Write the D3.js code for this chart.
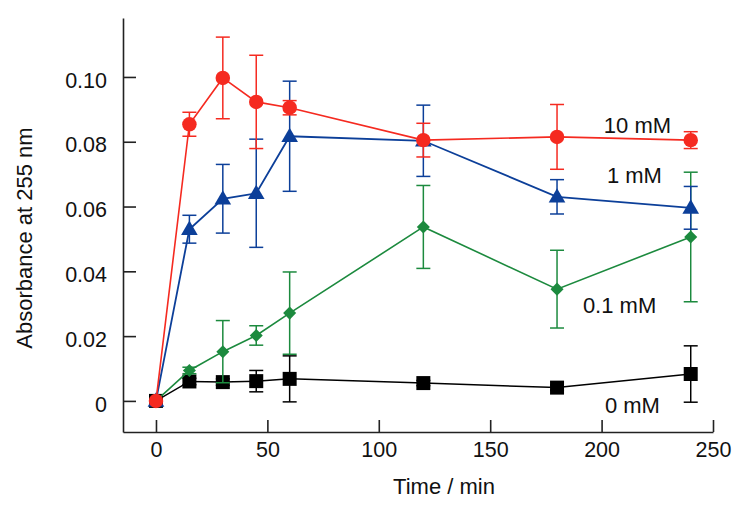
<!DOCTYPE html>
<html>
<head>
<meta charset="utf-8">
<script src="https://cdn.jsdelivr.net/npm/d3@7"></script>
<style>
  html, body { margin: 0; padding: 0; background: #fff; }
  svg { display: block; font-family: "Liberation Sans", Arial, Helvetica, sans-serif; }
</style>
</head>
<body>
<svg id="chart" width="743" height="512"></svg>
<script>
// ---- Data ----
const times = [0, 15, 30, 45, 60, 120, 180, 240];

const seriesNames = ["0 mM", "0.1 mM", "1 mM", "10 mM"];

const mean0mM   = [0, 0.0060, 0.0058, 0.0061, 0.0068, 0.0055, 0.0041, 0.0083];
const err0mM    = [0, 0.0010, 0.0010, 0.0033, 0.0071, 0.0008, 0.0008, 0.0087];

const mean01mM  = [0, 0.0094, 0.0152, 0.0202, 0.0271, 0.0537, 0.0345, 0.0506];
const err01mM   = [0, 0.0010, 0.0096, 0.0030, 0.0127, 0.0128, 0.0120, 0.0200];

const mean1mM   = [0, 0.0530, 0.0624, 0.0641, 0.0817, 0.0803, 0.0630, 0.0596];
const err1mM    = [0, 0.0043, 0.0106, 0.0167, 0.0170, 0.0110, 0.0053, 0.0066];

const mean10mM  = [0, 0.0854, 0.0997, 0.0923, 0.0905, 0.0805, 0.0815, 0.0805];
const err10mM   = [0, 0.0037, 0.0126, 0.0144, 0.0022, 0.0052, 0.0100, 0.0026];

const xTicks = [0, 50, 100, 150, 200, 250];
const yTicks = [0, 0.02, 0.04, 0.06, 0.08, 0.10];
const xTitle = "Time / min";
const yTitle = "Absorbance at 255 nm";

// ---- Layout ----
const svg = d3.select("#chart");
const x = d3.scaleLinear().domain([-14.8, 250]).range([123, 713]);
const y = d3.scaleLinear().domain([-0.0096, 0.1182]).range([432, 18]);

const axisColor = "#222";
const tickFont = "21.5px";

// X axis
const gx = svg.append("g").attr("transform", "translate(0,432)")
  .call(d3.axisBottom(x).tickValues(xTicks).tickSizeInner(-12).tickSizeOuter(0).tickPadding(10).tickFormat(d3.format("d")));
// Y axis
const gy = svg.append("g").attr("transform", "translate(123,0)")
  .call(d3.axisLeft(y).tickValues(yTicks).tickSizeInner(-13).tickSizeOuter(0).tickPadding(16)
    .tickFormat(d => d === 0 ? "0" : d3.format(".2f")(d)));

[gx, gy].forEach(g => {
  g.select(".domain").attr("stroke", axisColor).attr("stroke-width", 1.6);
  g.selectAll(".tick line").attr("stroke", axisColor).attr("stroke-width", 1.6);
  g.selectAll(".tick text").attr("fill", "#111").style("font-size", tickFont)
    .style("font-family", "'Liberation Sans', Arial, sans-serif");
});
gy.selectAll(".tick text").attr("dy", "0.47em");

// Titles
svg.append("text").attr("x", 444).attr("y", 494).attr("text-anchor", "middle")
  .style("font-size", "22px").attr("fill", "#111").text(xTitle);
svg.append("text").attr("transform", "translate(32,238) rotate(-90)").attr("text-anchor", "middle")
  .style("font-size", "22px").attr("fill", "#111").text(yTitle);

// ---- Series ----
const series = [
  { name: seriesNames[0], mean: mean0mM,  err: err0mM,  color: "#000000", shape: d3.symbolSquare,  size: 196, rot: 0,  lw: 1.5, label: [201.5, -0.0037] },
  { name: seriesNames[1], mean: mean01mM, err: err01mM, color: "#1c8a3e", shape: d3.symbolSquare,  size: 85,  rot: 45, lw: 1.6, label: [191.6, 0.0272] },
  { name: seriesNames[2], mean: mean1mM,  err: err1mM,  color: "#0c3f99", shape: d3.symbolTriangle, size: 120, rot: 0, lw: 1.8, label: [202.4, 0.0673] },
  { name: seriesNames[3], mean: mean10mM, err: err10mM, color: "#f52a20", shape: d3.symbolCircle,  size: 165, rot: 0,  lw: 1.6, label: [201, 0.0827] }
];

const capW = 7;
series.forEach(s => {
  const pts = times.map((t, i) => ({ t, v: s.mean[i], e: s.err[i] }));
  const g = svg.append("g");
  // error bars
  pts.filter(p => p.e > 0).forEach(p => {
    const cx = x(p.t), y1 = y(p.v + p.e), y2 = y(p.v - p.e);
    g.append("line").attr("x1", cx).attr("x2", cx).attr("y1", y1).attr("y2", y2)
      .attr("stroke", s.color).attr("stroke-width", 1.5);
    [y1, y2].forEach(yy => g.append("line").attr("x1", cx - capW).attr("x2", cx + capW)
      .attr("y1", yy).attr("y2", yy).attr("stroke", s.color).attr("stroke-width", 1.5));
  });
  // line
  g.append("path").datum(pts)
    .attr("d", d3.line().x(p => x(p.t)).y(p => y(p.v)))
    .attr("fill", "none").attr("stroke", s.color).attr("stroke-width", s.lw);
  // markers
  g.selectAll("path.mk").data(pts).enter().append("path").attr("class", "mk")
    .attr("d", d3.symbol().type(s.shape).size(s.size))
    .attr("transform", p => `translate(${x(p.t)},${y(p.v) + (s.shape === d3.symbolTriangle ? 1 : 0)}) rotate(${s.rot})`)
    .attr("fill", s.color);
  // label
  svg.append("text").attr("x", x(s.label[0])).attr("y", y(s.label[1]))
    .style("font-size", "22px").attr("fill", "#111").text(s.name);
});
</script>
</body>
</html>
